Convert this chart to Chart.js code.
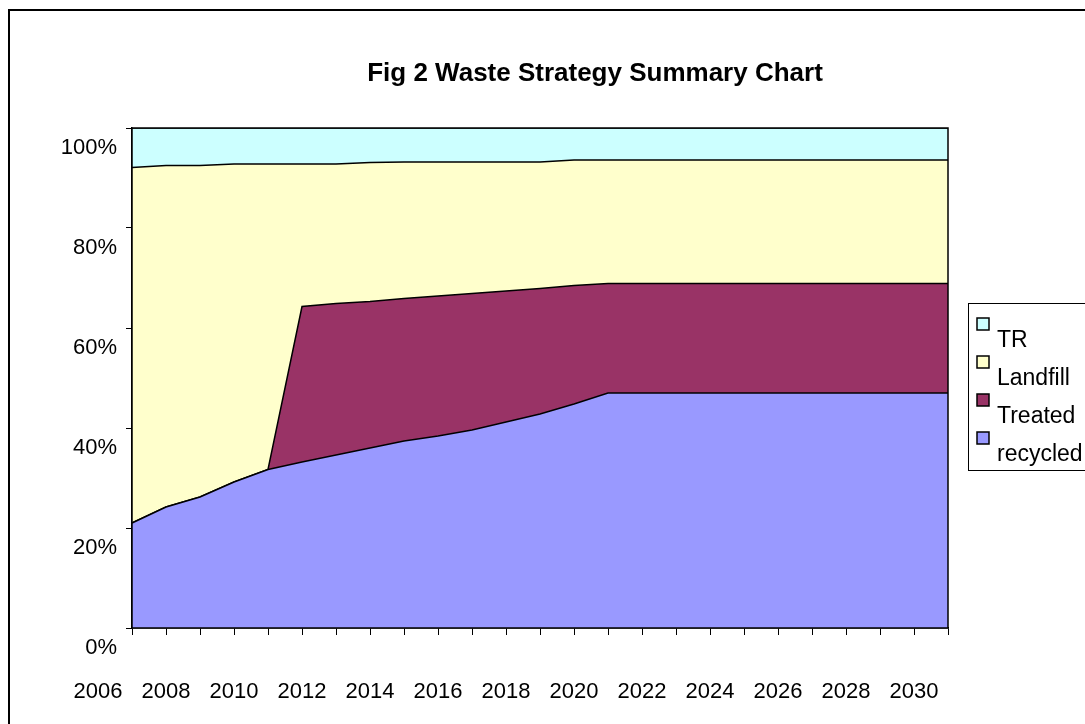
<!DOCTYPE html>
<html>
<head>
<meta charset="utf-8">
<script src="https://cdn.jsdelivr.net/npm/chart.js@4/dist/chart.umd.min.js"></script>
<style>
  html, body { margin: 0; padding: 0; background: #ffffff; }
  #wrap { width: 1085px; height: 724px; position: relative; }
</style>
</head>
<body>
<div id="wrap"><canvas id="c" width="1085" height="724"></canvas></div>
<script>
// ---- Data (percent of total) ----
const years = ['2006','2007','2008','2009','2010','2011','2012','2013','2014','2015','2016','2017','2018',
               '2019','2020','2021','2022','2023','2024','2025','2026','2027','2028','2029','2030'];
const recycled = [21.0, 24.2, 26.2, 29.2, 31.7, 33.2, 34.6, 36.0, 37.4, 38.4, 39.6, 41.2, 42.8,
                  44.8, 47.0, 47.0, 47.0, 47.0, 47.0, 47.0, 47.0, 47.0, 47.0, 47.0, 47.0];
const treated  = [0, 0, 0, 0, 0, 31.1, 30.3, 29.3, 28.5, 28.0, 27.3, 26.2, 25.1,
                  23.7, 21.9, 21.9, 21.9, 21.9, 21.9, 21.9, 21.9, 21.9, 21.9, 21.9, 21.9];
const landfill = [71.1, 68.3, 66.3, 63.6, 61.1, 28.5, 27.9, 27.8, 27.3, 26.8, 26.3, 25.8, 25.3,
                  25.1, 24.7, 24.7, 24.7, 24.7, 24.7, 24.7, 24.7, 24.7, 24.7, 24.7, 24.7];
const tr       = [7.9, 7.5, 7.5, 7.2, 7.2, 7.2, 7.2, 6.9, 6.8, 6.8, 6.8, 6.8, 6.8,
                  6.4, 6.4, 6.4, 6.4, 6.4, 6.4, 6.4, 6.4, 6.4, 6.4, 6.4, 6.4];
const yTicks = [0, 20, 40, 60, 80, 100];
const titleText = 'Fig 2 Waste Strategy Summary Chart';

const FONT = "'Liberation Sans', Arial, sans-serif";

function ds(label, data, color, fill) {
  return {
    label: label, data: data, backgroundColor: color, borderColor: '#000000',
    borderWidth: 1.5, fill: fill, pointRadius: 0, pointHoverRadius: 0, tension: 0
  };
}

const decor = {
  id: 'decor',
  beforeDraw(chart) {
    const ctx = chart.ctx;
    ctx.save();
    ctx.fillStyle = '#ffffff';
    ctx.fillRect(0, 0, chart.width, chart.height);
    // outer frame
    ctx.strokeStyle = '#000000';
    ctx.lineWidth = 2;
    ctx.beginPath();
    ctx.moveTo(9, 730); ctx.lineTo(9, 10); ctx.lineTo(1090, 10);
    ctx.stroke();
    // title
    ctx.fillStyle = '#000000';
    ctx.font = 'bold 26px ' + FONT;
    ctx.textAlign = 'center';
    ctx.textBaseline = 'middle';
    ctx.fillText(titleText, 595, 74);
    ctx.restore();
  },
  afterDatasetsDraw(chart) {
    const ctx = chart.ctx;
    const a = chart.chartArea;
    ctx.save();
    ctx.strokeStyle = '#000000';
    ctx.lineWidth = 1.5;
    ctx.strokeRect(a.left, a.top, a.right - a.left, a.bottom - a.top);
    // legend
    ctx.lineWidth = 1;
    ctx.strokeRect(968.5, 303.5, 140, 167);
    const items = chart.data.datasets.slice().reverse();
    ctx.font = '23px ' + FONT;
    ctx.textAlign = 'left';
    ctx.textBaseline = 'middle';
    items.forEach((d, i) => {
      const sy = 318 + i * 38;
      ctx.fillStyle = d.backgroundColor;
      ctx.fillRect(977, sy, 12, 12);
      ctx.strokeStyle = '#000000';
      ctx.lineWidth = 1.5;
      ctx.strokeRect(977, sy, 12, 12);
      ctx.fillStyle = '#000000';
      ctx.fillText(d.label, 997, sy + 23);
    });
    ctx.restore();
  }
};

new Chart(document.getElementById('c'), {
  type: 'line',
  data: {
    labels: years,
    datasets: [
      ds('recycled', recycled, '#9999FF', 'origin'),
      ds('Treated', treated, '#993366', '-1'),
      ds('Landfill', landfill, '#FFFFCC', '-1'),
      ds('TR', tr, '#CCFFFF', '-1')
    ]
  },
  options: {
    responsive: false,
    animation: false,
    events: [],
    layout: { padding: { left: 0, right: 137, top: 128, bottom: 0 } },
    plugins: { legend: { display: false }, title: { display: false }, tooltip: { enabled: false } },
    scales: {
      x: {
        type: 'category',
        offset: false,
        afterFit(s) { s.height = 96; },
        grid: { display: true, drawOnChartArea: false, offset: false, color: '#000000', tickLength: 7, tickWidth: 1 },
        border: { display: true, color: '#000000', width: 1.5 },
        ticks: {
          autoSkip: false, maxRotation: 0, minRotation: 0, padding: 44, labelOffset: -34,
          color: '#000000', font: { family: FONT, size: 22 },
          callback(v, i) { return i % 2 === 0 ? years[i] : ''; }
        }
      },
      y: {
        stacked: true, min: 0, max: 100,
        afterFit(s) { s.width = 132; },
        afterBuildTicks(s) { s.ticks = yTicks.map(v => ({ value: v })); },
        grid: { display: true, drawOnChartArea: false, color: '#000000', tickLength: 6, tickWidth: 1 },
        border: { display: true, color: '#000000', width: 1.5 },
        ticks: {
          padding: 9, labelOffset: 20, color: '#000000', font: { family: FONT, size: 22 },
          callback(v) { return v + '%'; }
        }
      }
    }
  },
  plugins: [decor]
});
</script>
</body>
</html>
